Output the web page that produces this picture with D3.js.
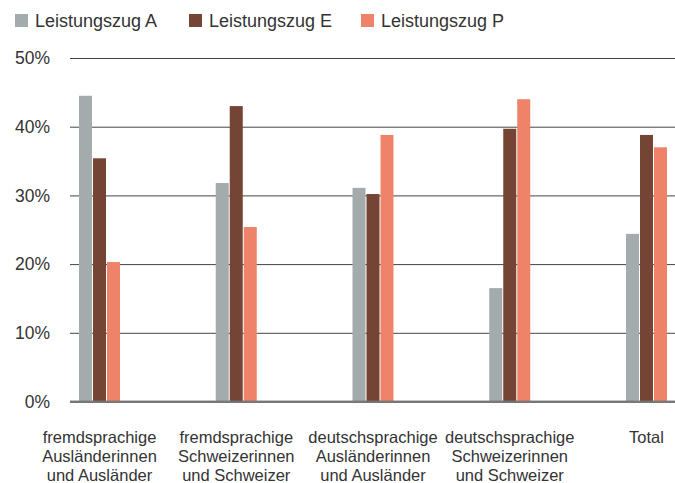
<!DOCTYPE html>
<html>
<head>
<meta charset="utf-8">
<script src="https://cdn.jsdelivr.net/npm/d3@7"></script>
<style>
  body { margin: 0; background: #fff; }
  text { font-family: "Liberation Sans", Arial, sans-serif; fill: #333; }
</style>
</head>
<body>
<svg id="chart" width="675" height="483"></svg>
<script>
// data (percent)
var categories = [
  ["fremdsprachige", "Ausländerinnen", "und Ausländer"],
  ["fremdsprachige", "Schweizerinnen", "und Schweizer"],
  ["deutschsprachige", "Ausländerinnen", "und Ausländer"],
  ["deutschsprachige", "Schweizerinnen", "und Schweizer"],
  ["Total"]
]
var series = ["Leistungszug A", "Leistungszug E", "Leistungszug P"]
var zugA = [44.5, 31.8, 31.1, 16.5, 24.4]
var zugE = [35.4, 43.0, 30.2, 39.7, 38.8]
var zugP = [20.3, 25.4, 38.8, 44.0, 37.0]
var yTicks = [0, 10, 20, 30, 40, 50]
var colors = ["#a3abac", "#744535", "#ef836a"]

var values = [zugA, zugE, zugP]
var svg = d3.select("#chart")
var left = 70, right = 675

var y = d3.scaleLinear().domain([0, 50]).range([401.5, 58])
var x0 = d3.scalePoint().domain(d3.range(categories.length)).range([99.5, 646.5])
var x1 = d3.scaleBand().domain(series).range([-20.5, 20.5]).paddingInner(1/14)
var color = d3.scaleOrdinal().domain(series).range(colors)

/* gridlines + y labels */
var yAxis = d3.axisLeft(y).tickValues(yTicks).tickSize(-(right-left)).tickFormat(d => d + "%").tickPadding(20)
var ga = svg.append("g").attr("transform", "translate(" + left + ",0)").call(yAxis)
ga.select(".domain").remove()
ga.selectAll(".tick line").attr("stroke", d => d == 0 ? "#777" : "#444").attr("stroke-width", d => d == 0 ? 2 : 1)
ga.selectAll(".tick text").attr("font-size", 17.5).attr("font-family", "Liberation Sans, Arial, sans-serif").attr("fill", "#333")

/* bars */
var rows = categories.map(function(c, i){
  return series.map(function(s, j){ return {i: i, s: s, v: values[j][i]} })
})
svg.append("g").selectAll("g")
  .data(rows).enter()
  .append("g")
    .attr("transform", (d, i) => "translate(" + x0(i) + ",0)")
  .selectAll("rect")
    .data(d => d).enter()
    .append("rect")
      .attr("x", d => x1(d.s))
      .attr("width", x1.bandwidth())
      .attr("y", d => y(d.v))
      .attr("height", d => y(0) - y(d.v))
      .attr("fill", d => color(d.s))

// baseline on top of the bars
svg.append("line")
  .attr("x1", left).attr("x2", right)
  .attr("y1", y(0)).attr("y2", y(0))
  .attr("stroke", "#777").attr("stroke-opacity", 0.85).attr("stroke-width", 2)

/* category labels */
var lab = svg.append("g").selectAll("text")
  .data(categories).enter()
  .append("text")
    .attr("text-anchor", "middle")
    .attr("font-size", 16.5)
    .attr("x", (d, i) => x0(i))
    .attr("y", 443)
lab.selectAll("tspan")
  .data(d => d).enter()
  .append("tspan")
    .attr("x", function(){ return d3.select(this.parentNode).attr("x") })
    .attr("dy", (d, k) => k == 0 ? 0 : 19)
    .text(d => d)

/* legend */
var legX = [15, 189, 361]
var leg = svg.append("g").selectAll("g")
  .data(series).enter()
  .append("g")
    .attr("transform", (d, i) => "translate(" + legX[i] + ",14)")
leg.append("rect").attr("width", 13).attr("height", 13).attr("fill", d => color(d))
leg.append("text").attr("x", 20).attr("y", 13).attr("font-size", 18).text(d => d)
</script>
</body>
</html>
